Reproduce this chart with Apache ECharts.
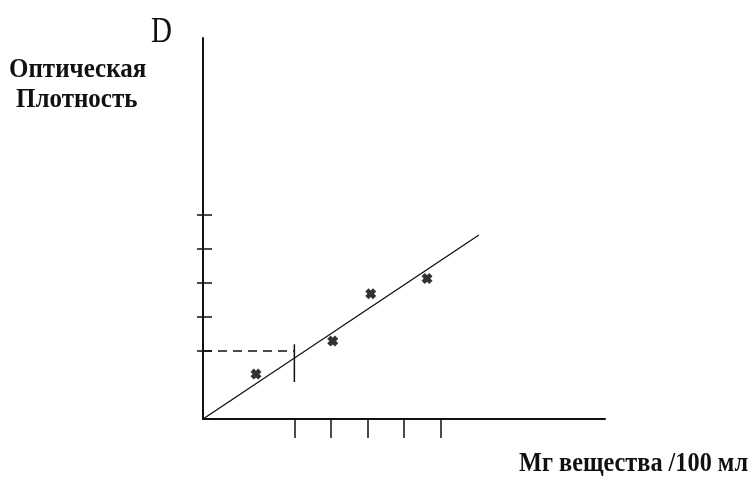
<!DOCTYPE html>
<html><head><meta charset="utf-8">
<script src="https://cdn.jsdelivr.net/npm/echarts@6/dist/echarts.min.js"></script>
<style>html,body{margin:0;padding:0;background:#fff}#c{width:755px;height:477px}</style>
</head><body><div id="c"></div>
<script>
// Data
const xTicks = [2.5, 3.5, 4.5, 5.5, 6.5];
const yTicks = [2, 3, 4, 5, 6];
const measX = [1.45, 3.55, 4.59, 6.13];
const measY = [1.32, 2.29, 3.68, 4.13];
const fitX = [0, 7.55];
const fitY = [0, 5.41];
const sampleX = 2.5;
const sampleY = 2;
const sampleMarkY = [1.09, 2.2];
const yTitle = ['Оптическая', 'Плотность'];
const xTitle = 'Мг вещества /100 мл';
const axisSymbol = 'D';

const chart = echarts.init(document.getElementById('c'));
const cross = 'path://M0,3 L3,0 L5,2 L7,0 L10,3 L8,5 L10,7 L7,10 L5,8 L3,10 L0,7 L2,5 Z';
const serif = '"Liberation Serif","Times New Roman",serif';
chart.setOption({
  animation: false,
  backgroundColor: '#fff',
  grid: {left: 203, top: 38, width: 402, height: 381},
  xAxis: {
    type: 'value', min: 0, max: 11,
    axisLine: {show: true, lineStyle: {color: '#111', width: 2}},
    axisTick: {show: true, customValues: xTicks, length: 19, lineStyle: {color: '#111', width: 1.5}},
    axisLabel: {show: false}, splitLine: {show: false}
  },
  yAxis: [{
    type: 'value', min: 0, max: 11.2,
    axisLine: {show: true, lineStyle: {color: '#111', width: 2}},
    axisTick: {show: true, customValues: yTicks, length: 6, lineStyle: {color: '#111', width: 1.5}},
    axisLabel: {show: false}, splitLine: {show: false}
  }, {
    type: 'value', min: 0, max: 11.2, position: 'left',
    axisLine: {show: false},
    axisTick: {show: true, inside: true, customValues: yTicks, length: 9, lineStyle: {color: '#111', width: 1.5}},
    axisLabel: {show: false}, splitLine: {show: false}
  }],
  series: [
    {type: 'line', data: fitX.map((x, i) => [x, fitY[i]]), symbol: 'none',
     lineStyle: {color: '#111', width: 1.3}},
    {type: 'line', data: [[0, sampleY], [sampleX, sampleY]], symbol: 'none',
     lineStyle: {color: '#111', width: 1.6, type: [9, 6]}},
    {type: 'line', data: sampleMarkY.map(y => [sampleX, y]), symbol: 'none',
     lineStyle: {color: '#111', width: 1.5}},
    {type: 'scatter', data: measX.map((x, i) => [x, measY[i]]), symbol: cross, symbolSize: 11,
     itemStyle: {color: '#000'}}
  ],
  graphic: [
    {type: 'text', x: 151, y: 14, scaleY: 1.25, style: {text: axisSymbol, font: '29px ' + serif, fill: '#111', textVerticalAlign: 'top'}},
    {type: 'text', x: 9, y: 56, scaleY: 1.12, style: {text: yTitle[0], font: 'bold 25px ' + serif, fill: '#111', textVerticalAlign: 'top'}},
    {type: 'text', x: 16, y: 86, scaleY: 1.12, style: {text: yTitle[1], font: 'bold 25px ' + serif, fill: '#111', textVerticalAlign: 'top'}},
    {type: 'text', x: 519, y: 451, scaleY: 1.1, style: {text: xTitle, font: 'bold 24.3px ' + serif, fill: '#111', textVerticalAlign: 'top'}}
  ]
});
</script></body></html>
